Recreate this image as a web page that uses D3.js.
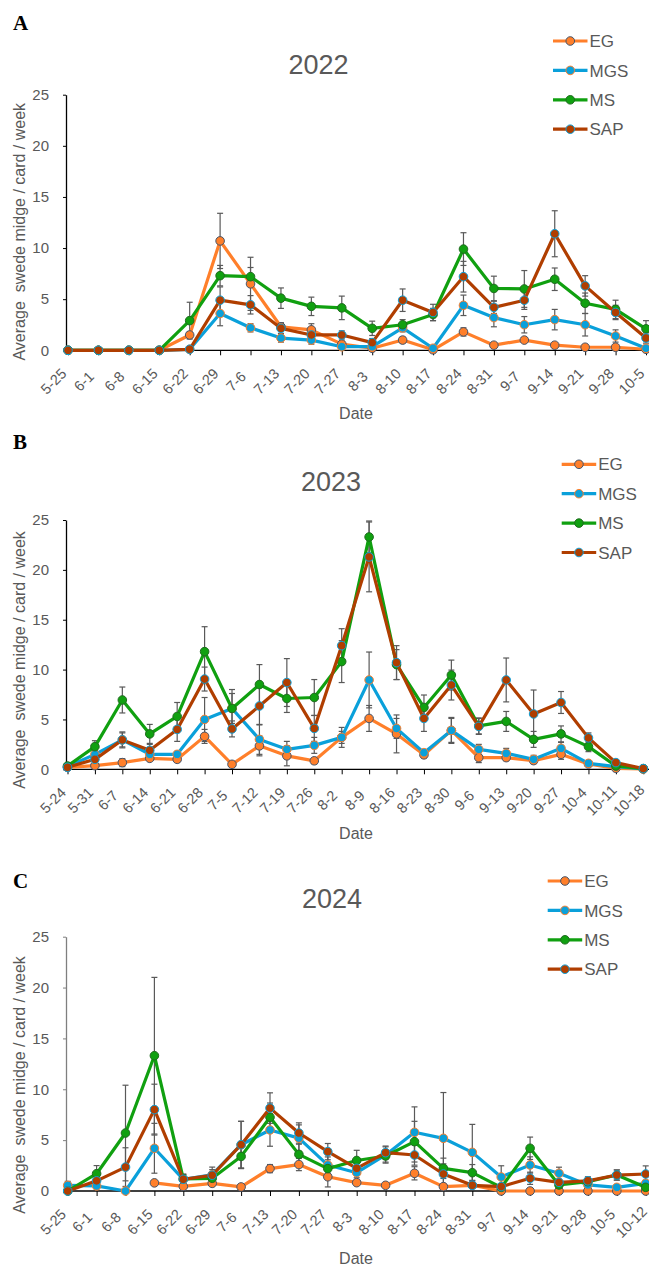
<!DOCTYPE html>
<html>
<head>
<meta charset="utf-8">
<script src="https://cdn.jsdelivr.net/npm/d3@7"></script>
<style>
  body { margin: 0; background: #fff; }
  text { font-family: "Liberation Sans", Arial, sans-serif; }
</style>
</head>
<body>
<svg id="chart" width="649" height="1268"></svg>
<script>
// ---- data ----
var seriesNames = ["EG", "MGS", "MS", "SAP"];
var yTicks = [0, 5, 10, 15, 20, 25];

// 2022
var datesA = ["5-25","6-1","6-8","6-15","6-22","6-29","7-6","7-13","7-20","7-27","8-3","8-10","8-17","8-24","8-31","9-7","9-14","9-21","9-28","10-5"];
var egA  = [0,0,0,0,1.5,10.7,6.5,2.3,2.0,0.6,0.2,1.0,0.05,1.8,0.5,1.0,0.5,0.3,0.3,0.1];
var mgsA = [0,0,0,0,0.1,3.6,2.2,1.2,1.0,0.35,0.35,2.2,0.2,4.4,3.2,2.5,3.0,2.5,1.4,0.2];
var msA  = [0,0,0,0,2.9,7.3,7.2,5.1,4.3,4.15,2.15,2.5,3.5,9.9,6.05,6.0,6.95,4.6,4.0,2.1];
var sapA = [0,0,0,0,0.1,4.9,4.45,2.15,1.5,1.5,0.75,4.9,3.7,7.2,4.2,4.9,11.4,6.3,3.7,1.2];
var errEgA  = [0,0,0,0,0.3,2.7,2.6,0.4,0.6,0.3,0.1,0.3,0.05,0.4,0.1,0.2,0.1,0.1,0.1,0.05];
var errMgsA = [0,0,0,0,0.1,1.2,0.4,0.4,0.4,0.2,0.2,0.4,0.1,1.0,0.9,0.8,1.0,1.1,0.6,0.1];
var errMsA  = [0,0,0,0,1.8,1.0,0.9,1.0,0.9,1.15,0.7,0.5,0.6,1.6,1.2,1.8,1.1,1.0,0.9,0.8];
var errSapA = [0,0,0,0,0.1,1.3,0.9,0.5,0.5,0.4,0.4,1.1,0.8,1.5,0.6,0.9,2.25,1.0,0.7,0.5];

// 2023
var datesB = ["5-24","5-31","6-7","6-14","6-21","6-28","7-5","7-12","7-19","7-26","8-2","8-9","8-16","8-23","8-30","9-6","9-13","9-20","9-27","10-4","10-11","10-18"];
var egB  = [0.2,0.37,0.67,1.1,1.0,3.3,0.5,2.35,1.35,0.85,3.2,5.1,3.55,1.45,3.9,1.17,1.17,0.87,1.5,0.53,0.1,0.03];
var mgsB = [0.27,1.5,2.95,1.5,1.5,5.0,6.1,3.0,2.0,2.4,3.2,8.96,4.1,1.67,3.9,2.0,1.6,1.0,2.1,0.6,0.27,0.03];
var msB  = [0.33,2.27,6.95,3.55,5.3,11.8,6.1,8.5,7.1,7.2,10.8,23.3,10.5,6.2,9.45,4.35,4.8,3.0,3.55,2.27,0.33,0.07];
var sapB = [0.2,1.0,2.95,1.9,4.0,9.05,4.05,6.35,8.7,4.1,12.4,21.3,10.7,5.1,8.45,4.3,8.96,5.55,6.7,3.15,0.67,0.07];
var errEgB  = [0.1,0.2,0.4,0.2,0.3,0.7,0.1,1.0,1.0,0.3,1.0,1.3,1.9,0.3,1.2,0.5,0.3,0.3,0.5,0.1,0.05,0];
var errMgsB = [0.1,0.4,0.8,0.3,0.3,2.2,1.5,1.5,0.8,0.8,0.6,2.8,1.0,0.3,1.3,0.5,0.5,0.4,0.6,0.2,0.1,0];
var errMsB  = [0.1,0.6,1.3,0.95,1.4,2.5,1.9,2.0,1.4,1.8,2.1,1.6,1.5,1.25,1.5,0.8,1.0,0.8,0.8,0.5,0.2,0.05];
var errSapB = [0.1,0.4,0.7,0.6,1.2,1.2,0.8,1.9,2.4,1.3,1.7,3.5,1.7,1.3,1.5,0.8,2.2,2.4,1.1,0.5,0.2,0.05];

// 2024
var datesC = ["5-25","6-1","6-8","6-15","6-22","6-29","7-6","7-13","7-20","7-27","8-3","8-10","8-17","8-24","8-31","9-7","9-14","9-21","9-28","10-5","10-12"];
var egC  = [null,null,null,0.8,0.45,0.75,0.4,2.2,2.6,1.4,0.82,0.56,1.74,0.43,0.56,0,0,0,0,0,0];
var mgsC = [0.55,0.5,0,4.2,1.15,1.6,4.55,6.0,5.2,2.55,1.8,3.54,5.77,5.18,3.8,1.38,2.56,1.74,0.6,0.36,0.75];
var msC  = [0,1.7,5.7,13.3,1.2,1.25,3.4,7.25,3.6,2.2,3.0,3.44,4.85,2.23,1.8,0.36,4.2,0.6,0.92,1.57,0.36];
var sapC = [0,1.0,2.35,8.0,1.15,1.55,4.55,8.15,5.7,3.87,2.23,3.77,3.54,1.67,0.56,0.43,1.25,0.85,1.0,1.57,1.67];
var errEgC  = [0,0,0,0.2,0.1,0.2,0.1,0.4,0.6,1.0,0.2,0.1,0.65,0.2,0.2,0,0,0,0,0,0];
var errMgsC = [0.4,0.3,0,2.45,0.5,0.5,2.3,1.6,1.3,0.8,0.5,0.8,2.5,4.5,2.75,1.1,0.8,0.6,0.2,0.2,0.3];
var errMsC  = [0,0.8,4.7,7.7,0.4,0.5,1.2,1.4,1.0,0.6,1.0,0.6,2.0,1.0,0.8,0.3,1.1,0.3,0.4,0.5,0.4];
var errSapC = [0,0.4,1.9,2.5,0.5,0.8,2.3,1.5,1.0,0.8,0.5,0.65,1.0,1.0,0.3,0.3,0.6,0.3,0.4,0.5,0.8];

// ---- styles ----
var lineColor   = ["#FF7F2A", "#0AA0DA", "#10A010", "#B03E00"];
var markerFill  = ["#FF7F2A", "#0AA0DA", "#10A010", "#B03E00"];
var markerLine  = ["#44546A", "#FF7F2A", "#1F6B1F", "#0AA0DA"];
var grey = "#595959";

var svg = d3.select("#chart");

var panels = [
  { dates: datesA, vals: [egA, mgsA, msA, sapA], errs: [errEgA, errMgsA, errMsA, errSapA],
    yTop: 94.7, yBottom: 350.3, x0: 68, x1: 646, yAxisColor: "#000",
    title: "2022", titleX: 318.5, titleY: 74, letter: "A", letterY: 29.5,
    ylabY: 231.7, dateY: 419, legX: 553, legY: 41 },
  { dates: datesB, vals: [egB, mgsB, msB, sapB], errs: [errEgB, errMgsB, errMsB, errSapB],
    yTop: 520, yBottom: 769.3, x0: 67.5, x1: 643.3, yAxisColor: "#000",
    title: "2023", titleX: 331, titleY: 491, letter: "B", letterY: 448.5,
    ylabY: 660, dateY: 839, legX: 561.7, legY: 464.3 },
  { dates: datesC, vals: [egC, mgsC, msC, sapC], errs: [errEgC, errMgsC, errMsC, errSapC],
    yTop: 936.7, yBottom: 1191, x0: 67.7, x1: 645.7, yAxisColor: "#7f7f7f",
    title: "2024", titleX: 332, titleY: 907.7, letter: "C", letterY: 888.3,
    ylabY: 1085, dateY: 1264, legX: 547.7, legY: 881 }
];

var axisX = 66;

panels.forEach(drawPanel);

function drawPanel(p) {
  var x = d3.scalePoint().domain(p.dates).range([p.x0, p.x1]);
  var y = d3.scaleLinear().domain([0, 25]).range([p.yBottom, p.yTop]);
  var g = svg.append("g");

  // y axis
  var ya = g.append("g")
    .attr("transform", "translate(" + axisX + ",0)")
    .call(d3.axisLeft(y).tickValues(yTicks).tickSize(3).tickSizeOuter(0).tickPadding(14));
  ya.select(".domain").attr("stroke", p.yAxisColor).attr("stroke-width", 1.3);
  ya.selectAll(".tick line").attr("stroke", p.yAxisColor);
  ya.selectAll("text").attr("fill", grey).style("font-size", "15px");

  // x axis
  var xa = g.append("g")
    .attr("transform", "translate(0," + p.yBottom + ")")
    .call(d3.axisBottom(x).tickSize(5).tickSizeOuter(0));
  xa.select(".domain").remove();
  xa.append("line")
    .attr("x1", axisX).attr("x2", 649)
    .attr("stroke", "#000").attr("stroke-width", 1.3);
  xa.selectAll(".tick line").attr("stroke", "#000");
  xa.selectAll("text")
    .attr("x", 0).attr("y", 0).attr("dy", "0.35em")
    .attr("transform", "translate(-15,31) rotate(-45)")
    .style("text-anchor", "middle")
    .style("font-size", "14.5px")
    .attr("fill", grey);

  // error bars (behind the lines)
  var cap = 3;
  p.vals.forEach(function(vals, s) {
    var pts = vals.map(function(v, i) { return { d: p.dates[i], v: v, e: p.errs[s][i] }; })
      .filter(function(d) { return d.v != null && d.e > 0; });
    var eb = g.append("g").attr("stroke", grey).attr("stroke-width", 1.2);
    eb.selectAll(".v").data(pts).enter().append("line")
      .attr("x1", d => x(d.d)).attr("x2", d => x(d.d))
      .attr("y1", d => y(d.v - d.e)).attr("y2", d => y(d.v + d.e));
    eb.selectAll(".t").data(pts).enter().append("line")
      .attr("x1", d => x(d.d) - cap).attr("x2", d => x(d.d) + cap)
      .attr("y1", d => y(d.v + d.e)).attr("y2", d => y(d.v + d.e));
    eb.selectAll(".b").data(pts).enter().append("line")
      .attr("x1", d => x(d.d) - cap).attr("x2", d => x(d.d) + cap)
      .attr("y1", d => y(d.v - d.e)).attr("y2", d => y(d.v - d.e));
  });

  // lines + markers
  var line = d3.line()
    .defined(d => d.v != null)
    .x(d => x(d.d))
    .y(d => y(d.v));

  p.vals.forEach(function(vals, s) {
    var pts = vals.map(function(v, i) { return { d: p.dates[i], v: v }; });
    g.append("path")
      .datum(pts)
      .attr("d", line)
      .attr("fill", "none")
      .attr("stroke", lineColor[s])
      .attr("stroke-width", 3.2)
      .attr("stroke-linejoin", "round");
    g.selectAll(".m" + s)
      .data(pts.filter(d => d.v != null))
      .enter().append("circle")
      .attr("cx", d => x(d.d))
      .attr("cy", d => y(d.v))
      .attr("r", 4.3)
      .attr("fill", markerFill[s])
      .attr("stroke", markerLine[s])
      .attr("stroke-width", 1);
  });

  // title
  g.append("text")
    .attr("x", p.titleX).attr("y", p.titleY)
    .attr("text-anchor", "middle")
    .attr("fill", grey)
    .style("font-size", "27px")
    .text(p.title);

  // panel letter
  g.append("text")
    .attr("x", 13).attr("y", p.letterY)
    .style("font-family", "'Liberation Serif', 'Times New Roman', serif")
    .style("font-weight", "bold")
    .style("font-size", "21px")
    .attr("fill", "#000")
    .text(p.letter);

  // axis labels
  g.append("text")
    .attr("transform", "translate(19," + p.ylabY + ") rotate(-90)")
    .attr("text-anchor", "middle")
    .attr("dy", "0.35em")
    .attr("fill", grey)
    .style("font-size", "16px")
    .style("white-space", "pre")
    .text("Average  swede midge / card / week");

  g.append("text")
    .attr("x", 356).attr("y", p.dateY)
    .attr("text-anchor", "middle")
    .attr("fill", grey)
    .style("font-size", "16px")
    .text("Date");

  // legend
  var leg = g.append("g").attr("transform", "translate(" + p.legX + "," + p.legY + ")");
  seriesNames.forEach(function(name, s) {
    var row = leg.append("g").attr("transform", "translate(0," + (s * 29.4) + ")");
    row.append("line")
      .attr("x1", 0).attr("x2", 34.5)
      .attr("stroke", lineColor[s]).attr("stroke-width", 3.2);
    row.append("circle")
      .attr("cx", 17.25).attr("r", 4.3)
      .attr("fill", markerFill[s])
      .attr("stroke", markerLine[s])
      .attr("stroke-width", 1);
    row.append("text")
      .attr("x", 36.5).attr("dy", "0.36em")
      .attr("fill", grey)
      .style("font-size", "17px")
      .text(name);
  });
}
</script>
</body>
</html>
